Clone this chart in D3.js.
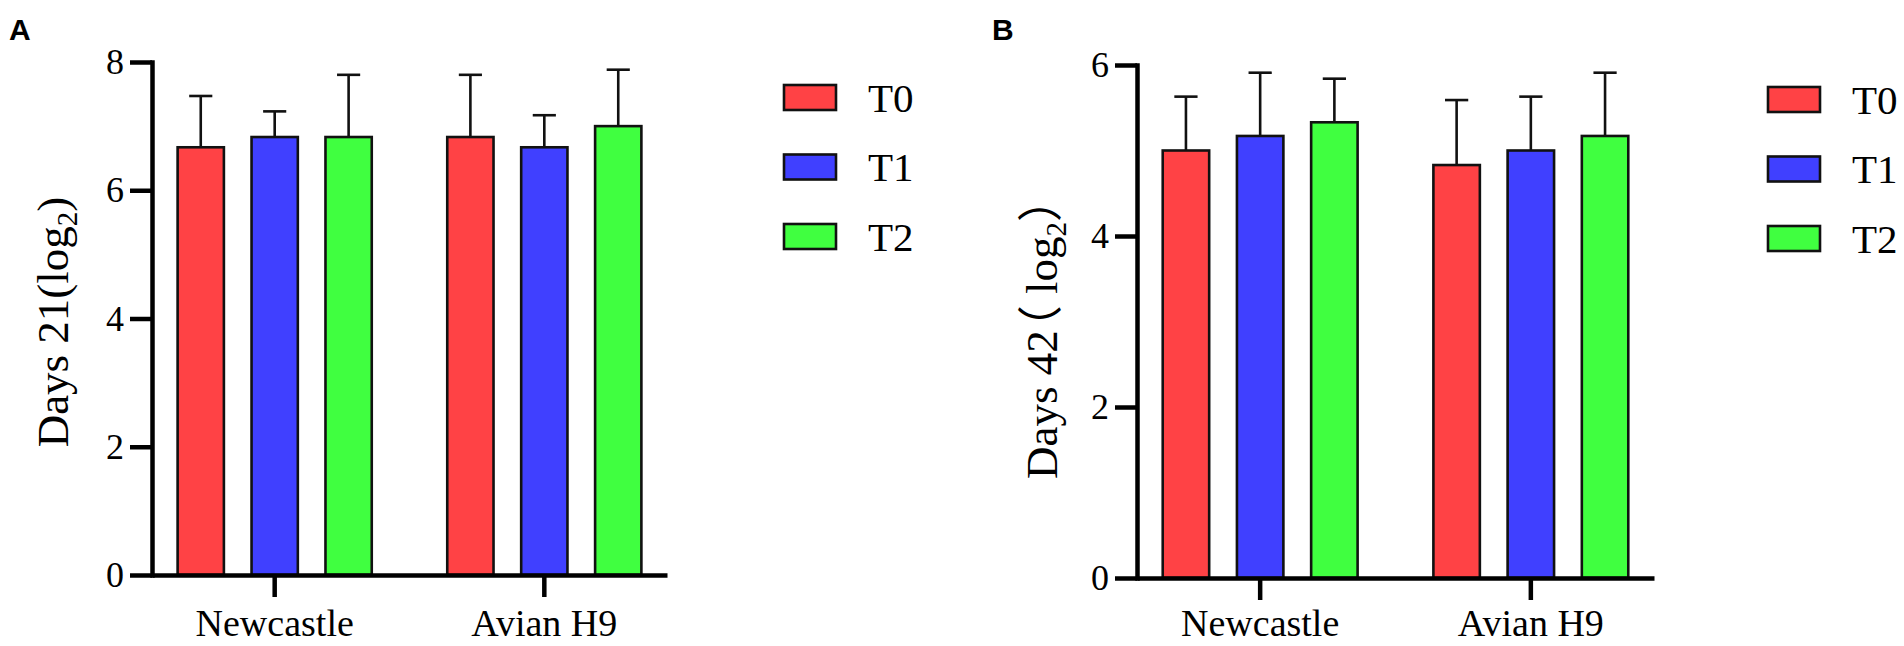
<!DOCTYPE html>
<html>
<head>
<meta charset="utf-8">
<script src="https://cdn.jsdelivr.net/npm/d3@7"></script>
<style>
  html, body { margin: 0; padding: 0; background: #fff; }
  svg { display: block; }
</style>
</head>
<body>
<svg id="chart" width="1904" height="646"></svg>
<script>
// ---------- data ----------
const categories = ["Newcastle", "Avian H9"];
const seriesNames = ["T0", "T1", "T2"];
const seriesColors = ["#FF4245", "#4040FF", "#40FF40"];

// Panel A : Days 21 (log2) — means and SD per series (Newcastle, Avian H9)
const d21T0 = [6.67, 6.83];
const d21T1 = [6.83, 6.67];
const d21T2 = [6.83, 7.00];
const d21T0Err = [0.80, 0.97];
const d21T1Err = [0.40, 0.50];
const d21T2Err = [0.97, 0.88];
const d21Ticks = [0, 2, 4, 6, 8];

// Panel B : Days 42 (log2)
const d42T0 = [5.00, 4.83];
const d42T1 = [5.17, 5.00];
const d42T2 = [5.33, 5.17];
const d42T0Err = [0.63, 0.76];
const d42T1Err = [0.74, 0.63];
const d42T2Err = [0.51, 0.74];
const d42Ticks = [0, 2, 4, 6];

// ---------- drawing ----------
const svg = d3.select("#chart");
const serif = "'Liberation Serif','Times New Roman','Noto Sans CJK SC',serif";

function buildRows(means, errs) {
  return categories.map((c, ci) => ({
    category: c,
    values: seriesNames.map((s, si) => ({ series: s, idx: si, mean: means[si][ci], err: errs[si][ci] }))
  }));
}

function drawPanel(cfg) {
  const g = svg.append("g");
  const rows = buildRows(cfg.means, cfg.errs);

  const x0 = d3.scaleBand().domain(categories)
    .range([cfg.left, cfg.right]).paddingInner(0.28).paddingOuter(0.095);
  const x1 = d3.scaleBand().domain(seriesNames)
    .range([0, x0.bandwidth()]).paddingInner(0.374).paddingOuter(0);
  const y = d3.scaleLinear().domain([0, d3.max(cfg.ticks)]).range([cfg.bottom, cfg.top]);

  // bars
  const grp = g.selectAll(".grp").data(rows).enter().append("g")
    .attr("transform", d => `translate(${x0(d.category)},0)`);

  grp.selectAll("line.err").data(d => d.values).enter().append("line")
    .attr("x1", d => x1(d.series) + x1.bandwidth() / 2)
    .attr("x2", d => x1(d.series) + x1.bandwidth() / 2)
    .attr("y1", d => y(d.mean))
    .attr("y2", d => y(d.mean + d.err))
    .attr("stroke", "#111").attr("stroke-width", 2.6);
  grp.selectAll("line.cap").data(d => d.values).enter().append("line")
    .attr("x1", d => x1(d.series) + x1.bandwidth() / 4)
    .attr("x2", d => x1(d.series) + x1.bandwidth() * 3 / 4)
    .attr("y1", d => y(d.mean + d.err))
    .attr("y2", d => y(d.mean + d.err))
    .attr("stroke", "#111").attr("stroke-width", 2.6);

  grp.selectAll("rect").data(d => d.values).enter().append("rect")
    .attr("x", d => x1(d.series))
    .attr("width", x1.bandwidth())
    .attr("y", d => y(d.mean))
    .attr("height", d => y(0) - y(d.mean))
    .attr("fill", d => seriesColors[d.idx])
    .attr("stroke", "#111").attr("stroke-width", 2.6);

  // y axis
  const yAxis = g.append("g").attr("transform", `translate(${cfg.left},0)`)
    .call(d3.axisLeft(y).tickValues(cfg.ticks).tickFormat(d3.format("d"))
      .tickSize(22).tickSizeOuter(0).tickPadding(6));
  yAxis.select(".domain").attr("stroke", "#000").attr("stroke-width", 4.5).attr("stroke-linecap", "square");
  yAxis.selectAll(".tick line").attr("stroke", "#000").attr("stroke-width", 4.5);
  yAxis.selectAll(".tick text").attr("font-family", serif).attr("font-size", 36).attr("fill", "#000");

  // x axis
  const xAxis = g.append("g").attr("transform", `translate(0,${cfg.bottom})`)
    .call(d3.axisBottom(x0).tickSize(22).tickSizeOuter(0).tickPadding(10));
  xAxis.select(".domain").attr("stroke", "#000").attr("stroke-width", 4.5);
  xAxis.selectAll(".tick line").attr("stroke", "#000").attr("stroke-width", 4.5);
  xAxis.selectAll(".tick text").attr("font-family", serif).attr("font-size", 38).attr("fill", "#000")
    .attr("y", cfg.labelBaseline - cfg.bottom).attr("dy", 0);

  // y title
  const t = g.append("text")
    .attr("transform", `translate(${cfg.titleX},${cfg.titleY}) rotate(-90)`)
    .attr("text-anchor", "middle")
    .attr("font-family", serif).attr("font-size", 45).attr("fill", "#000");
  t.append("tspan").text(cfg.titlePre);
  if (cfg.titleParen) {
    t.append("tspan").attr("dx", cfg.parenShift).text(cfg.titleParen);
  }
  t.append("tspan").text(cfg.titleMid);
  t.append("tspan").attr("font-size", 29).attr("dy", 9).text("2");
  t.append("tspan").attr("dy", -9).text(cfg.titlePost);

  // panel letter
  g.append("text").attr("x", cfg.letterX).attr("y", 40)
    .attr("font-family", "'Liberation Sans',Arial,sans-serif").attr("font-weight", "bold")
    .attr("font-size", 30).attr("fill", "#000").text(cfg.letter);

  // legend
  const leg = g.selectAll(".leg").data(seriesNames).enter().append("g")
    .attr("transform", (d, i) => `translate(${cfg.legendX},${cfg.legendY + i * 69.5})`);
  leg.append("rect").attr("x", 0).attr("y", -12.5).attr("width", 52).attr("height", 25)
    .attr("fill", (d, i) => seriesColors[i]).attr("stroke", "#111").attr("stroke-width", 2.6);
  leg.append("text").attr("x", 84).attr("y", 14)
    .attr("font-family", serif).attr("font-size", 41).attr("fill", "#000").text(d => d);
}

drawPanel({
  means: [d21T0, d21T1, d21T2], errs: [d21T0Err, d21T1Err, d21T2Err], ticks: d21Ticks,
  left: 152, right: 667, top: 62, bottom: 575, labelBaseline: 636,
  titleX: 68, titleY: 322, titlePre: "Days 21(", titleParen: null, titleMid: "log", titlePost: ")",
  letter: "A", letterX: 9, legendX: 784, legendY: 97.5
});

drawPanel({
  means: [d42T0, d42T1, d42T2], errs: [d42T0Err, d42T1Err, d42T2Err], ticks: d42Ticks,
  left: 1137, right: 1654, top: 65, bottom: 578, labelBaseline: 636,
  titleX: 1057, titleY: 328, titlePre: "Days 42", titleParen: "（", parenShift: -20, titleMid: " log", titlePost: "）",
  letter: "B", letterX: 992, legendX: 1768, legendY: 99.5
});
</script>
</body>
</html>
